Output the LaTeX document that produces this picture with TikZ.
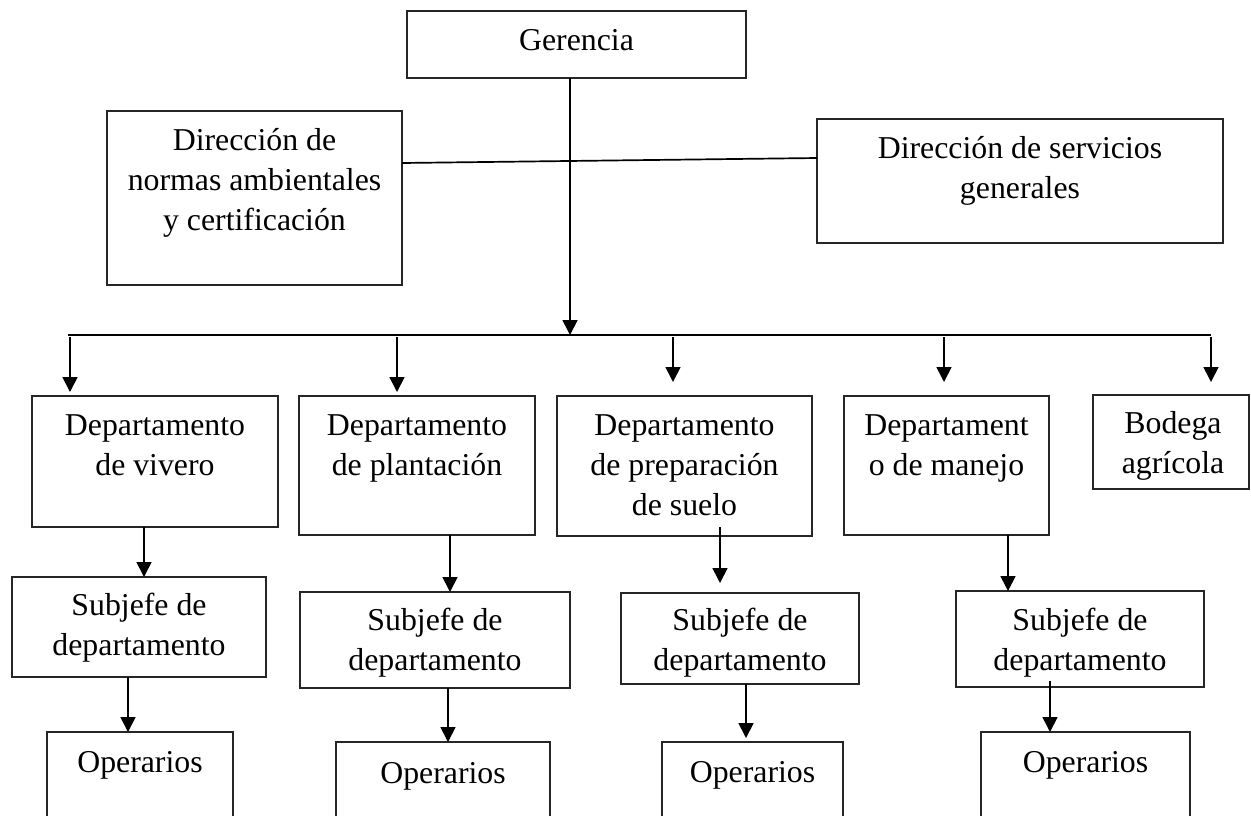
\documentclass[tikz,border=0pt]{standalone}
\usepackage{fontspec}
\setmainfont{Liberation Serif}
\usetikzlibrary{arrows.meta,fit}
\tikzset{
  box/.style={draw=black!85, line width=0.65pt, inner sep=0pt, outer sep=0pt},
  txt/.style={font=\fontsize{15.9}{20}\selectfont, align=center, inner sep=0pt, anchor=north},
  conn/.style={line width=0.85pt, black},
  arr/.style={conn, -{Triangle[length=7.5pt,width=7.5pt]}}
}
\newcommand\lt[1]{\strut#1}
\begin{document}
\begin{tikzpicture}[x=0.5pt,y=-0.5pt]
\useasboundingbox (0,0) rectangle (1251,815);
\clip (0,0) rectangle (1251,815);
% boxes
\node[box, fit={(407,11) (746,78)}] (G) {};
\node[box, fit={(107,111) (402,285)}] (N) {};
\node[box, fit={(817,119) (1223,243)}] (SG) {};
\node[box, fit={(32,396) (278,527)}] (D1) {};
\node[box, fit={(299,396) (535,535)}] (D2) {};
\node[box, fit={(557,396) (812,536)}] (D3) {};
\node[box, fit={(844,396) (1049,535)}] (D4) {};
\node[box, fit={(1093,395) (1249,489)}] (B) {};
\node[box, fit={(12,577) (266,677)}] (S1) {};
\node[box, fit={(300,592) (570,688)}] (S2) {};
\node[box, fit={(621,593) (859,684)}] (S3) {};
\node[box, fit={(956,591) (1204,687)}] (S4) {};
\node[box, fit={(47,732) (233,840)}] (O1) {};
\node[box, fit={(336,742) (550,840)}] (O2) {};
\node[box, fit={(662,742) (843,840)}] (O3) {};
\node[box, fit={(981,732) (1190,840)}] (O4) {};
% texts (north = baseline - 28px)
\node[txt] (tG) at (576.5,22) {\lt{Gerencia}};
\node[txt] (tN) at (254.5,122) {\lt{Dirección de}\\\lt{normas ambientales}\\\lt{y certificación}};
\node[txt] (tSG) at (1020,130) {\lt{Dirección de servicios}\\\lt{generales}};
\node[txt] (tD1) at (155,407) {\lt{Departamento}\\\lt{de vivero}};
\node[txt] (tD2) at (417,407) {\lt{Departamento}\\\lt{de plantación}};
\node[txt] (tD3) at (684.5,407) {\lt{Departamento}\\\lt{de preparación}\\\lt{de suelo}};
\node[txt] (tD4) at (946.5,407) {\lt{Departament}\\\lt{o de manejo}};
\node[txt] (tB) at (1173,405) {\lt{Bodega}\\\lt{agrícola}};
\node[txt] (tS1) at (139,587) {\lt{Subjefe de}\\\lt{departamento}};
\node[txt] (tS2) at (435,602) {\lt{Subjefe de}\\\lt{departamento}};
\node[txt] (tS3) at (740,602) {\lt{Subjefe de}\\\lt{departamento}};
\node[txt] (tS4) at (1080,602) {\lt{Subjefe de}\\\lt{departamento}};
\node[txt] (tO1) at (140,744) {\lt{Operarios}};
\node[txt] (tO2) at (443,755) {\lt{Operarios}};
\node[txt] (tO3) at (752.5,754) {\lt{Operarios}};
\node[txt] (tO4) at (1085.5,744) {\lt{Operarios}};
% bar coordinates
\coordinate (barL) at (68,335);
\coordinate (barR) at (1211,335);
\coordinate (gj) at (570,335);
\coordinate (a1) at (70,335);
\coordinate (a2) at (397,335);
\coordinate (a3) at (673,335);
\coordinate (a4) at (944,335);
\coordinate (a5) at (1211,335);
% connectors
\draw[arr] (G.south -| gj) -- (gj);
\draw[conn] ([yshift=17.5pt]N.east) -- ([yshift=11.5pt]SG.west);
\draw[conn] (barL) -- (barR);
\draw[arr, shorten >=2pt] ([yshift=-1pt]a1) -- (D1.north -| a1);
\draw[arr, shorten >=2pt] ([yshift=-1pt]a2) -- (D2.north -| a2);
\draw[arr, shorten >=7pt] ([yshift=-1pt]a3) -- (D3.north -| a3);
\draw[arr, shorten >=7pt] ([yshift=-1pt]a4) -- (D4.north -| a4);
\draw[arr, shorten >=6.5pt] ([yshift=-1pt]a5) -- (B.north -| a5);
% dept -> subjefe
\coordinate (c1) at (144,0); \coordinate (c2) at (450,0);
\coordinate (c3) at (720,0); \coordinate (c4) at (1008,0);
\draw[arr] (D1.south -| c1) -- (S1.north -| c1);
\draw[arr] (D2.south -| c2) -- (S2.north -| c2);
\draw[arr, shorten >=5pt] ([yshift=4.5pt]D3.south -| c3) -- (S3.north -| c3);
\draw[arr] (D4.south -| c4) -- (S4.north -| c4);
% subjefe -> operarios
\coordinate (e1) at (128,0); \coordinate (e2) at (448,0);
\coordinate (e3) at (746,0); \coordinate (e4) at (1050,0);
\draw[arr] (S1.south -| e1) -- (O1.north -| e1);
\draw[arr] (S2.south -| e2) -- (O2.north -| e2);
\draw[arr, shorten >=2pt] (S3.south -| e3) -- (O3.north -| e3);
\draw[arr] ([yshift=3pt]S4.south -| e4) -- (O4.north -| e4);
\end{tikzpicture}
\end{document}
